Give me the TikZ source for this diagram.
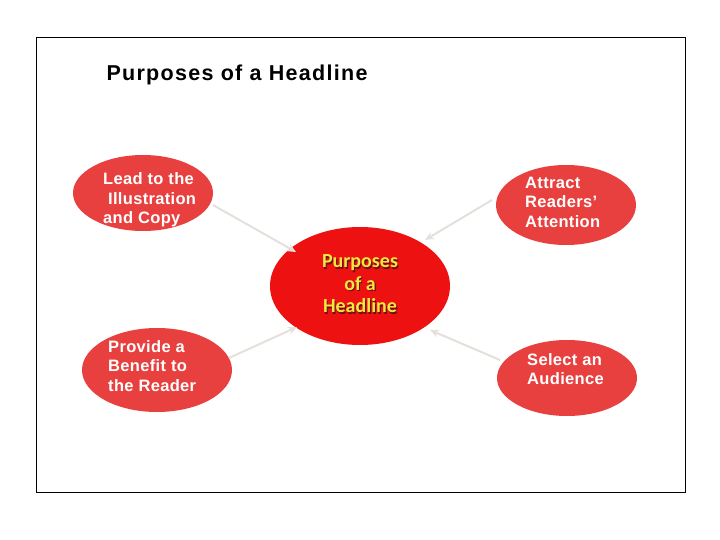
\documentclass[tikz,border=0pt]{standalone}
\usepackage{fontspec}
\setmainfont{Liberation Sans}
\newfontfamily\calib{Carlito}
\usetikzlibrary{shapes.geometric,arrows.meta}
\definecolor{outerred}{HTML}{E8403F}
\definecolor{centerred}{HTML}{EE1111}
\definecolor{ytext}{HTML}{F2E642}
\definecolor{conn}{HTML}{E4E0DC}
\definecolor{shad}{HTML}{6A1010}
\begin{document}
\begin{tikzpicture}[x=1pt,y=-1pt,
  blob/.style={ellipse,fill=outerred,inner sep=0pt},
  otext/.style={text=white,font=\bfseries\fontsize{16.5}{19.5}\selectfont\addfontfeature{LetterSpace=2},align=left,inner sep=0pt},
  ctext/.style={font=\calib\bfseries\fontsize{20}{22.5}\selectfont,align=center},
  link/.style={draw=conn,line width=2pt,-{Stealth[length=9pt,width=8pt]}}]
\useasboundingbox (0,0) rectangle (720,540);
\draw[line width=0.8pt] (36,37) rectangle (685,492);
\node[anchor=west,font=\bfseries\fontsize{21.5}{24}\selectfont\addfontfeature{LetterSpace=6}] (title) at (103,75) {Purposes of a Headline};
\node[blob,minimum width=140pt,minimum height=76pt] (tl) at (143,193) {};
\node[blob,minimum width=140pt,minimum height=80pt] (tr) at (566,205) {};
\node[blob,minimum width=150pt,minimum height=84pt] (bl) at (157,370) {};
\node[blob,minimum width=140pt,minimum height=76pt] (br) at (567,378) {};
\node[ellipse,fill=centerred,minimum width=180pt,minimum height=118pt] (c) at (360,286) {};
\node[otext,anchor=west] (tlt) at (103,200) {Lead to the\\\ Illustration\\and Copy};
\node[otext,anchor=west] (trt) at (525,202) {Attract\\Readers\symbol{39}\\Attention};
\node[otext,anchor=west] (blt) at (108,366) {Provide a\\Benefit to\\the Reader};
\node[otext,anchor=west] (brt) at (527,369) {Select an\\Audience};
\node[ctext,text=shad] (cts) at (361.2,285.2) {Purposes\\of a\\Headline};
\node[ctext,text=ytext] (ct) at (360,284) {Purposes\\of a\\Headline};
\draw[link] (213,205) -- (296,252);
\draw[link] (492,200) -- (425,240);
\draw[link] (229,358) -- (297,327);
\draw[link] (500,360) -- (430,330);
\end{tikzpicture}
\end{document}
